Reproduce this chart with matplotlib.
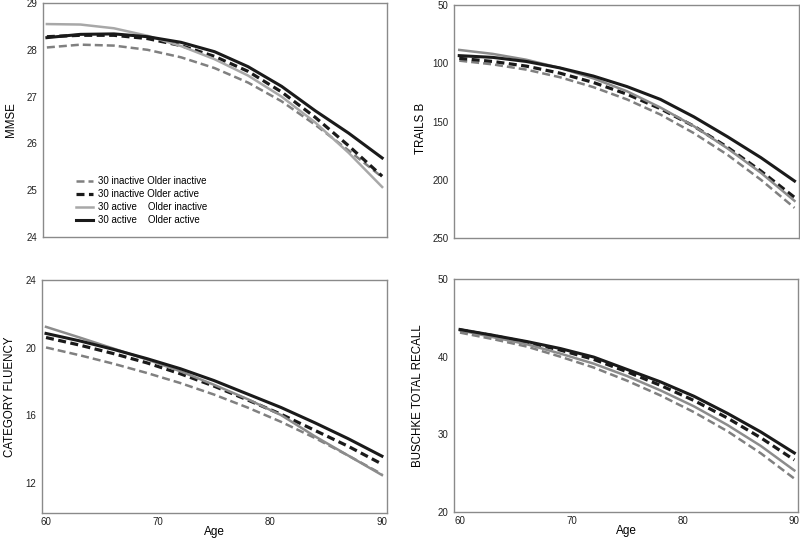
import matplotlib
matplotlib.use("Agg")
import matplotlib.pyplot as plt

plt.rcParams["font.family"] = ["Liberation Sans", "DejaVu Sans"]

ages = [60, 63, 66, 69, 72, 75, 78, 81, 84, 87, 90]

# MMSE
mmse_ii = [28.05, 28.11, 28.09, 28.00, 27.84, 27.61, 27.30, 26.90, 26.40, 25.85, 25.28]
mmse_ia = [28.28, 28.31, 28.31, 28.24, 28.09, 27.86, 27.54, 27.10, 26.56, 25.95, 25.30]
mmse_ai = [28.55, 28.54, 28.46, 28.30, 28.08, 27.80, 27.45, 27.00, 26.45, 25.80, 25.07]
mmse_aa = [28.26, 28.33, 28.34, 28.28, 28.16, 27.96, 27.64, 27.22, 26.70, 26.22, 25.69]

# Trails B
trails_ii = [97.8, 101, 105.5, 112, 120.5, 131, 144, 160, 178.5, 200, 224]
trails_ia = [95.8, 98.5, 102.5, 108.5, 116.5, 126.5, 139, 154, 172, 192.5, 215]
trails_ai = [88.6, 92, 97, 104, 113, 124, 138, 154, 173, 194, 218]
trails_aa = [93.5, 95, 98.5, 104, 111, 120, 131, 146, 163, 181, 201]

# Category fluency
fluency_ii = [20.01, 19.55, 19.05, 18.50, 17.90, 17.22, 16.45, 15.60, 14.65, 13.60, 12.50]
fluency_ia = [20.60, 20.15, 19.65, 19.10, 18.45, 17.72, 16.90, 16.05, 15.10, 14.15, 13.10]
fluency_ai = [21.23, 20.60, 19.95, 19.30, 18.60, 17.80, 16.95, 16.00, 14.75, 13.60, 12.45]
fluency_aa = [20.84, 20.40, 19.90, 19.35, 18.75, 18.05, 17.25, 16.45, 15.55, 14.60, 13.57]

# Buschke total recall
buschke_ii = [43.1, 42.25, 41.3, 40.0, 38.6, 36.9, 35.0, 32.85, 30.4, 27.55, 24.3]
buschke_ia = [43.45, 42.7, 41.85, 40.85, 39.65, 38.05, 36.3, 34.35, 32.1, 29.55, 26.7]
buschke_ai = [43.4, 42.5, 41.6, 40.4, 39.1, 37.5, 35.65, 33.6, 31.2, 28.5, 25.35]
buschke_aa = [43.5, 42.75, 41.95, 41.05, 39.95, 38.35, 36.75, 34.9, 32.7, 30.3, 27.6]

labels = ["30 inactive Older inactive",
          "30 inactive Older active",
          "30 active    Older inactive",
          "30 active    Older active"]

fig = plt.figure(figsize=(8, 5.45), dpi=100)

ax_tl = fig.add_axes([0.054, 0.565, 0.430, 0.4295])
ax_tr = fig.add_axes([0.5675, 0.563, 0.4315, 0.428])
ax_bl = fig.add_axes([0.0525, 0.0587, 0.4315, 0.4273])
ax_br = fig.add_axes([0.5675, 0.0606, 0.430, 0.4274])


def draw(ax, ii, ia, ai, aa, grey_solid="#8c8c8c"):
    ax.plot(ages, ii, color="#808080", lw=1.8, dashes=(3.2, 1.6), label=labels[0])
    ax.plot(ages, ia, color="#1a1a1a", lw=2.3, dashes=(2.5, 1.4), label=labels[1])
    ax.plot(ages, ai, color=grey_solid, lw=1.8, label=labels[2])
    ax.plot(ages, aa, color="#1a1a1a", lw=2.2, label=labels[3])
    for s in ax.spines.values():
        s.set_color("#8a8a8a")
        s.set_linewidth(1.0)
    ax.tick_params(length=0, labelsize=7, pad=4, colors="#222222")


draw(ax_tl, mmse_ii, mmse_ia, mmse_ai, mmse_aa, grey_solid="#a8a8a8")
draw(ax_tr, trails_ii, trails_ia, trails_ai, trails_aa)
draw(ax_bl, fluency_ii, fluency_ia, fluency_ai, fluency_aa)
draw(ax_br, buschke_ii, buschke_ia, buschke_ai, buschke_aa)

ax_tl.set_xlim(59.67, 90.45)
ax_tl.set_ylim(24, 29)
ax_tl.set_yticks([24, 25, 26, 27, 28, 29])
ax_tl.set_xticks([])
ax_tl.set_ylabel("MMSE", fontsize=8.3)
ax_tl.yaxis.set_label_coords(-0.076, 0.5)

ax_tr.set_xlim(59.53, 90.42)
ax_tr.set_ylim(250, 50)
ax_tr.set_yticks([50, 100, 150, 200, 250])
ax_tr.set_xticks([])
ax_tr.set_ylabel("TRAILS B", fontsize=8.3)
ax_tr.yaxis.set_label_coords(-0.078, 0.47)

ax_bl.set_xlim(59.64, 90.47)
ax_bl.set_ylim(10.2, 24)
ax_bl.set_yticks([12, 16, 20, 24])
ax_bl.set_xticks([60, 70, 80, 90])
ax_bl.tick_params(axis="x", pad=3)
ax_bl.set_ylabel("CATEGORY FLUENCY", fontsize=8.3)
ax_bl.yaxis.set_label_coords(-0.074, 0.5)
ax_bl.set_xlabel("Age", fontsize=8.5, labelpad=-0.5)

ax_br.set_xlim(59.46, 90.33)
ax_br.set_ylim(20, 50)
ax_br.set_yticks([20, 30, 40, 50])
ax_br.set_xticks([60, 70, 80, 90])
ax_br.tick_params(axis="x", pad=3)
ax_br.set_ylabel("BUSCHKE TOTAL RECALL", fontsize=8.3)
ax_br.yaxis.set_label_coords(-0.087, 0.5)
ax_br.set_xlabel("Age", fontsize=8.5, labelpad=-0.5)

ax_tl.legend(loc="lower left", bbox_to_anchor=(0.085, 0.035), frameon=False,
             fontsize=7, handlelength=1.75, handletextpad=0.5,
             labelspacing=0.3, borderaxespad=0)

fig.savefig("out.png", dpi=100)
